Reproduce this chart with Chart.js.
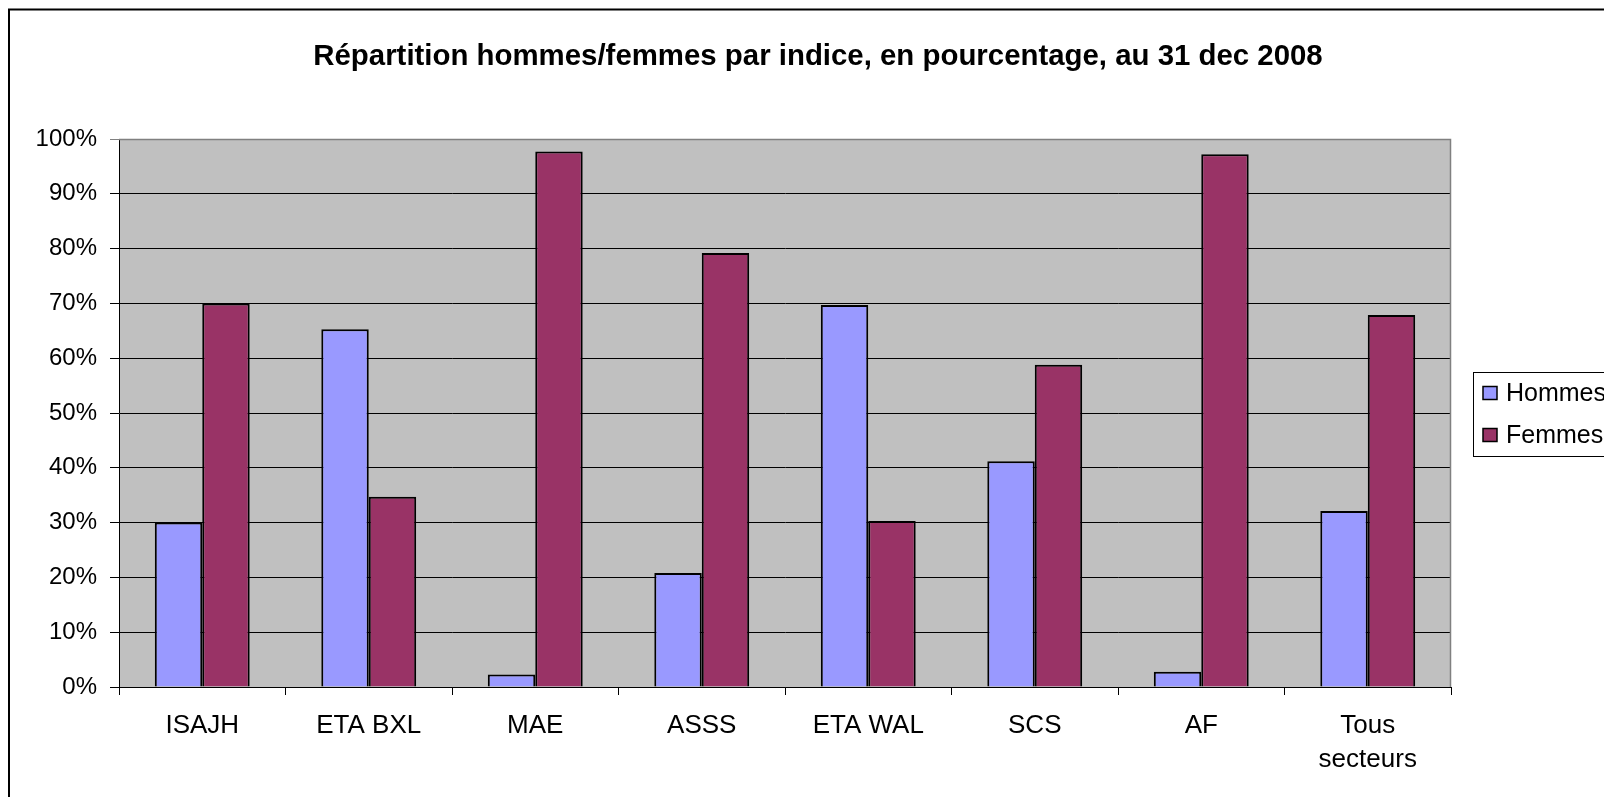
<!DOCTYPE html>
<html>
<head>
<meta charset="utf-8">
<title>Répartition hommes/femmes</title>
<script src="https://cdn.jsdelivr.net/npm/chart.js@4"></script>
<style>
  html, body { margin: 0; padding: 0; background: #fff; overflow: hidden; }
  #grafico-wrap { position: absolute; left: 0; top: 0; width: 1604px; height: 797px; }
</style>
</head>
<body>
<div id="grafico-wrap"><canvas id="grafico" width="1604" height="797"></canvas></div>
<script>
// Datos
const titulo = "Répartition hommes/femmes par indice, en pourcentage, au 31 dec 2008";
const categorias = ["ISAJH", "ETA BXL", "MAE", "ASSS", "ETA WAL", "SCS", "AF", ["Tous", "secteurs"]];
const hommes = [30.0, 65.3, 2.3, 20.8, 69.7, 41.2, 2.8, 32.1];
const femmes = [70.0, 34.7, 97.7, 79.2, 30.3, 58.8, 97.2, 67.9];
const ticksY = [0, 10, 20, 30, 40, 50, 60, 70, 80, 90, 100];

document.addEventListener("DOMContentLoaded", function() {
  const fuente = "'Liberation Sans', Arial, sans-serif";

  // fondo, borde, titulo y leyenda
  const decorado = {
    id: "decorado",
    beforeDraw: function(chart) {
      const ctx = chart.ctx;
      const a = chart.chartArea;
      ctx.save();
      ctx.fillStyle = "#ffffff";
      ctx.fillRect(0, 0, chart.width, chart.height);
      ctx.fillStyle = "#c0c0c0";
      ctx.fillRect(a.left, a.top, a.right - a.left, a.bottom - a.top);
      ctx.restore();
    },
    afterDraw: function(chart) {
      const ctx = chart.ctx;
      const a = chart.chartArea;
      ctx.save();
      // borde gris del area
      ctx.strokeStyle = "#808080";
      ctx.lineWidth = 1.5;
      ctx.beginPath();
      ctx.moveTo(a.left, a.top + 0.5);
      ctx.lineTo(a.right - 0.5, a.top + 0.5);
      ctx.lineTo(a.right - 0.5, a.bottom);
      ctx.stroke();

      // marco exterior
      ctx.strokeStyle = "#000";
      ctx.lineWidth = 2;
      ctx.strokeRect(9, 9.5, 1700, 900);

      // titulo
      ctx.fillStyle = "#000";
      ctx.font = "bold 29.4px " + fuente;
      ctx.textAlign = "center";
      ctx.textBaseline = "middle";
      ctx.fillText(titulo, 818, 57);

      // leyenda
      ctx.fillStyle = "#fff";
      ctx.fillRect(1473, 372, 200, 84);
      ctx.strokeStyle = "#000";
      ctx.lineWidth = 1;
      ctx.strokeRect(1473.5, 372.5, 200, 84);
      const filas = [393, 435];
      chart.data.datasets.forEach(function(ds, i) {
        const y = filas[i];
        ctx.fillStyle = ds.backgroundColor;
        ctx.fillRect(1483, y - 6.5, 14, 13);
        ctx.lineWidth = 1.5;
        ctx.strokeStyle = "#000";
        ctx.strokeRect(1483, y - 6.5, 14, 13);
        ctx.fillStyle = "#000";
        ctx.font = "25px " + fuente;
        ctx.textAlign = "left";
        ctx.textBaseline = "middle";
        ctx.fillText(ds.label, 1506, y + 1);
      });
      ctx.restore();
    }
  };

  const ctx = document.getElementById("grafico").getContext("2d");
  new Chart(ctx, {
    type: "bar",
    data: {
      labels: categorias,
      datasets: [
        {
          label: "Hommes",
          data: hommes,
          backgroundColor: "#9999ff",
          borderColor: "#000",
          borderWidth: 2,
          categoryPercentage: 0.57,
          barPercentage: 1.0
        },
        {
          label: "Femmes",
          data: femmes,
          backgroundColor: "#993366",
          borderColor: "#000",
          borderWidth: 2,
          categoryPercentage: 0.57,
          barPercentage: 1.0
        }
      ]
    },
    options: {
      responsive: false,
      animation: false,
      layout: { padding: { left: 0, right: 153, top: 139, bottom: 0 } },
      plugins: {
        legend: { display: false },
        title: { display: false },
        tooltip: { enabled: false }
      },
      scales: {
        x: {
          grid: {
            drawOnChartArea: false,
            drawTicks: true,
            tickLength: 8,
            color: "#000",
            offset: true
          },
          border: { display: true, color: "#000", width: 1 },
          ticks: {
            color: "#000",
            font: { family: fuente, size: 26, lineHeight: 1.31 },
            padding: 14,
            maxRotation: 0,
            autoSkip: false
          },
          afterFit: function(scale) { scale.height = 110; }
        },
        y: {
          min: 0,
          max: 100,
          afterBuildTicks: function(scale) {
            scale.ticks = ticksY.map(function(v) { return { value: v }; });
          },
          grid: {
            color: function(c) { return c.tick && c.tick.value === 100 ? "#808080" : "#000"; },
            lineWidth: 1,
            drawTicks: true,
            tickLength: 9
          },
          border: { display: true, color: "#000", width: 1 },
          ticks: {
            color: "#000",
            font: { family: fuente, size: 24 },
            padding: 13,
            callback: function(v) { return v + "%"; }
          },
          afterFit: function(scale) { scale.width = 119; }
        }
      }
    },
    plugins: [decorado]
  });
});
</script>
</body>
</html>
